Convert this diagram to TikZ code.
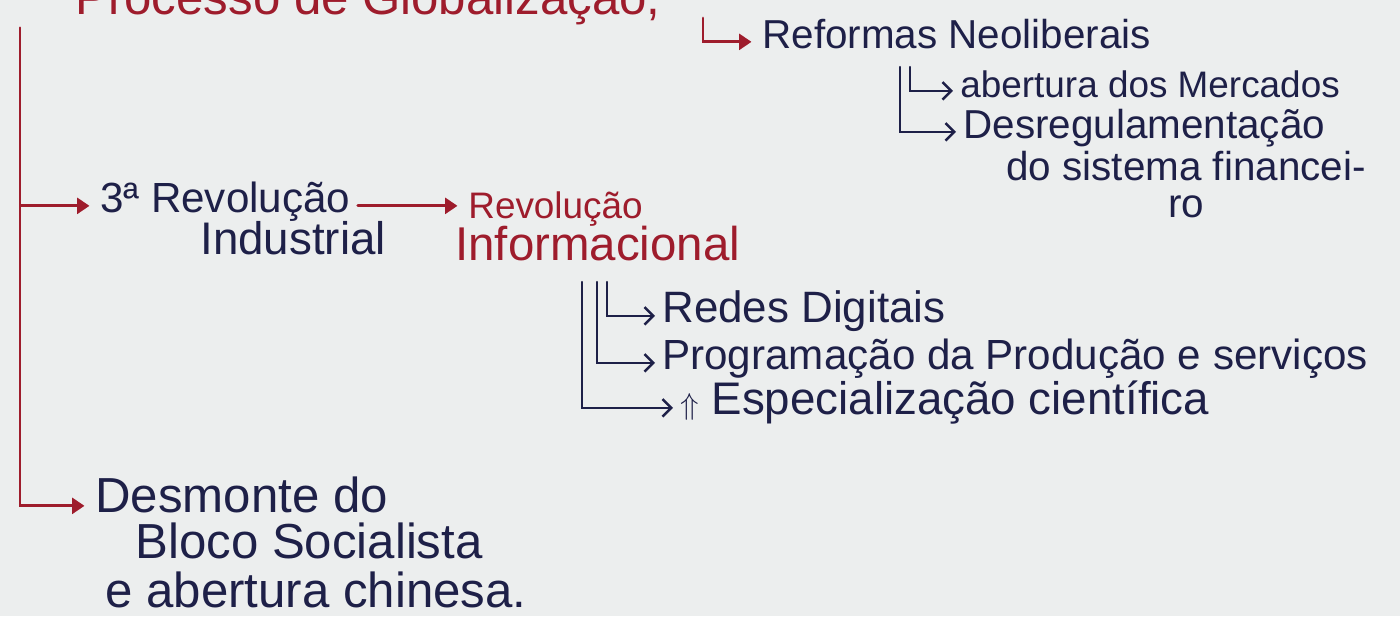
\documentclass[tikz,border=0pt]{standalone}
\usepackage{fontspec}
\setmainfont{Liberation Sans}
\usetikzlibrary{arrows.meta}
\definecolor{ink}{RGB}{158,28,44}
\definecolor{pen}{RGB}{30,32,72}
\definecolor{paper}{RGB}{236,238,238}
\tikzstyle{txt}=[anchor=base west,inner xsep=4pt,inner ysep=0pt,text height=12pt,text depth=5pt,text=pen]
\tikzstyle{redtxt}=[txt,text=ink]
\tikzstyle{redline}=[draw=ink,line width=1.6pt,line cap=round,shorten >=2pt,-{Triangle[length=7pt,width=9pt]}]
\tikzstyle{blueline}=[draw=pen,line width=1.4pt,line cap=round,-{Straight Barb[length=5pt,width=10pt]}]
\newcommand{\hand}[1]{\fontsize{#1}{#1}\selectfont}

\begin{document}
\begin{tikzpicture}[x=0.02cm,y=-0.02cm]
  \fill[paper] (0,0) rectangle (1400,616);
  \useasboundingbox (0,0) rectangle (1400,616);
  \clip (0,0) rectangle (1400,616);
  \node[redtxt,font=\hand{28}] (proc) at (68,14) {Processo de Globalização,};
  \node[txt,font=\hand{23}] (neolib) at (755,48) {Reformas Neoliberais};
  \node[txt,font=\hand{21}] (mercados) at (953,97) {abertura dos Mercados};
  \node[txt,font=\hand{23}] (desreg) at (956,138) {Desregulamentação};
  \node[anchor=north,align=center,inner sep=0pt,text=pen,font=\fontsize{23}{21}\selectfont] (desregb) at (1186,151) {do sistema financei-\\ro};
  \node[txt,font=\hand{24}] (rev3) at (93,212) {3ª Revolução};
  \node[txt,font=\hand{26}] (rev3b) at (193,254) {Industrial};
  \node[redtxt,font=\hand{21}] (revinfo) at (461,218) {Revolução};
  \node[redtxt,font=\hand{27}] (revinfob) at (448,260) {Informacional};
  \node[txt,font=\hand{25}] (redes) at (655,322) {Redes Digitais};
  \node[txt,font=\hand{24}] (prog) at (655,369) {Programação da Produção e serviços};
  \node[txt,font=\hand{26}] (espec) at (673,414) {{\hand{19}$\Uparrow$} Especialização científica};
  \node[txt,font=\hand{28}] (desmonte) at (88,512) {Desmonte do};
  \node[txt,font=\hand{28}] (bloco) at (128,558) {Bloco Socialista};
  \node[txt,font=\hand{28}] (chinesa) at (98,607) {e abertura chinesa.};

  \coordinate (main) at (20,28);
  \coordinate (neotop) at (703,18);
  \coordinate (mertop) at (900,67);
  \coordinate (mertopb) at (910,67);
  \coordinate (infotop) at (582,282);
  \coordinate (infotopb) at (597,282);
  \coordinate (infotopc) at (607,282);

  \draw[redline] (main) |- (rev3.west);
  \draw[redline] (main) |- (desmonte.west);
  \draw[redline] (rev3.east) -- (rev3.east -| revinfo.west);
  \draw[redline] (neotop) |- (neolib.west);
  \draw[blueline] (mertop) |- (desreg.west);
  \draw[blueline] (mertopb) |- (mercados.west);
  \draw[blueline] (infotop) |- (espec.west);
  \draw[blueline] (infotopb) |- (prog.west);
  \draw[blueline] (infotopc) |- (redes.west);
\end{tikzpicture}
\end{document}
